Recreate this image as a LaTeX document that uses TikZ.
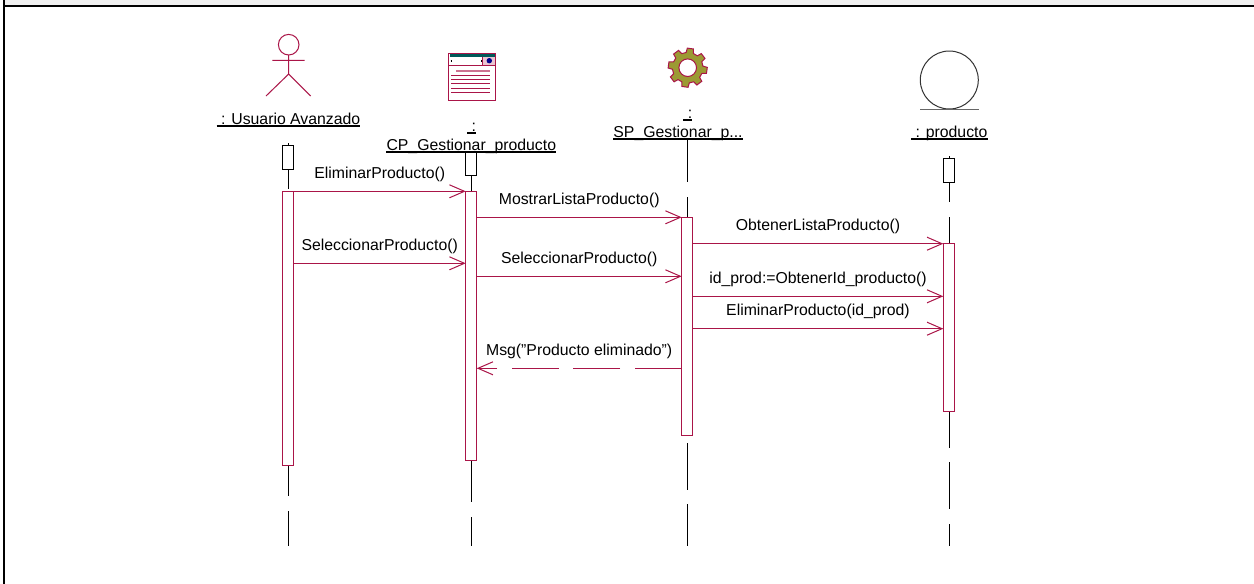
\documentclass[tikz,border=0pt]{standalone}
\usepackage{fontspec}
\setmainfont{Liberation Sans}
\usepackage{tikz}
\usetikzlibrary{arrows.meta}
\usetikzlibrary{calc}

\definecolor{umlred}{HTML}{AA1548}
\definecolor{gearfill}{HTML}{9C9A33}
\definecolor{bandgray}{HTML}{F0F0F0}

\tikzset{
  msg/.style={draw=umlred,line width=1pt,-{Straight Barb[length=15pt,width=13pt,line width=1pt]}},
  msg label/.style={anchor=base,yshift=13pt,inner sep=0pt,font=\fontsize{15.8}{18}\selectfont},
  obj label/.style={anchor=base,inner sep=0pt,font=\fontsize{15.8}{18}\selectfont},
  obj rule/.style={line width=1.5pt},
  focus/.style={draw=umlred,line width=1pt,fill=white},
  lifebox/.style={draw=black,line width=1pt,fill=white},
  lifeline/.style={line width=1pt},
  icon/.style={draw=umlred,line width=1pt}
}

\begin{document}
\begin{tikzpicture}[x=1pt,y=-1pt]
  \useasboundingbox (0,0) rectangle (1254,584);
  \fill[white] (0,0) rectangle (1254,584);
  \fill[bandgray] (5,0) rectangle (1254,5);
  \draw[line width=1.8pt] (4.2,0) -- (4.2,584);
  \draw[line width=1.8pt] (3.3,5.8) -- (1254,5.8);

  % lifelines
  \foreach \x/\a/\b in {288.3/143/189,288.3/465/496,288.3/511/546,
                        471.7/152/191,471.7/460/502,471.7/517/546,
                        687.7/138/182,687.7/197/218,687.7/443/490,687.7/504/546,
                        949.3/156/202,949.3/217/244,949.3/411/448,949.3/462/509,949.3/524/546}
    \draw[lifeline] (\x,\a) -- (\x,\b);

  % small boxes on top
  \draw[lifebox] (282.3,145.3) rectangle (293.7,169);
  \draw[lifebox] (465.7,152) rectangle (476.7,175.3);
  \draw[lifebox] (943.3,158.7) rectangle (954.3,182.3);

  % focus of control
  \draw[focus] (282.3,191.3) rectangle (293.7,465);
  \draw[focus] (465.7,191.3) rectangle (476.7,460.5);
  \draw[focus] (681.7,217.3) rectangle (692.7,435.7);
  \draw[focus] (943.3,243.7) rectangle (954.3,411);

  % actor
  \draw[icon] (288.7,44.7) circle (10.3);
  \draw[icon] (288.7,55) -- (288.7,74) (272.3,60.3) -- (304.7,60.3) (266,96) -- (288.7,74) -- (310.7,96);

  % window icon
  \draw[icon,fill=white] (448.9,53.5) rectangle (495,100);
  \fill[teal!70!black] (449.5,54) rectangle (494.5,56.5);
  \fill[umlred!25] (483,57) rectangle (494.5,65);
  \draw[icon] (449,65.3) -- (495,65.3) (482.8,56.8) -- (482.8,65.3);
  \draw[black,line width=2.6pt,densely dotted] (450.5,61) -- (482,61);
  \fill[white] (452,59.6) rectangle (480.5,62.4);
  \fill[blue!55!black] (489.3,60.7) circle (2.7);
  \draw[icon,umlred!60,line width=1.4pt] (456,71) -- (490,71);
  \foreach \y in {75,79.3,83.7,88.3,92.7}
    \draw[icon] (451.3,\y) -- (490,\y);

  % gear icon
  \begin{scope}[shift={(687.7,67.7)}]
    \draw[icon,fill=gearfill,even odd rule] (-14+8-90:15.3)
      \foreach \a in {-82,-37,8,53,98,143,188,233} {
        -- (\a-14:15.3) -- (\a-9:19.6) -- (\a+9:19.6) -- (\a+14:15.3)
      } -- cycle (0,0) circle (8.8);
  \end{scope}

  % entity icon
  \draw[line width=1pt,black!80] (949.3,80) circle (29);
  \draw[line width=1pt,black!60] (920,109) -- (979,109);

  % object names
  \node[obj label] (usuario) at (288.5,124) {~: Usuario Avanzado~};
  \node[obj label] (cpdots) at (471.7,131.3) {~:~};
  \node[obj label] (cp) at (471.3,150) {CP\_Gestionar\_producto};
  \node[obj label] (spdots) at (687.9,118) {~:~};
  \node[obj label] (sp) at (678,137.2) {SP\_Gestionar\_p...};
  \node[obj label] (prod) at (949.3,137.2) {~: producto~};
  \foreach \n in {usuario,cpdots,cp,spdots,sp,prod}
    \draw[obj rule] ($(\n.base west)+(0,1.8)$) -- ($(\n.base east)+(0,1.8)$);

  % messages
  \coordinate (m1a) at (293.7,191.3);   \coordinate (m1b) at (465.7,191.3);
  \coordinate (m2a) at (476.7,217.3);   \coordinate (m2b) at (681.7,217.3);
  \coordinate (m3a) at (692.7,243.7);   \coordinate (m3b) at (943.3,243.7);
  \coordinate (m4a) at (293.7,263.3);   \coordinate (m4b) at (465.7,263.3);
  \coordinate (m5a) at (476.7,276.3);   \coordinate (m5b) at (681.7,276.3);
  \coordinate (m6a) at (692.7,296.3);   \coordinate (m6b) at (943.3,296.3);
  \coordinate (m7a) at (692.7,328.7);   \coordinate (m7b) at (943.3,328.7);
  \coordinate (m8a) at (681.7,368.3);   \coordinate (m8b) at (476.7,368.3);

  \path (m1a) edge[msg] node[msg label] {EliminarProducto()} (m1b)
        (m2a) edge[msg] node[msg label] {MostrarListaProducto()} (m2b)
        (m3a) edge[msg] node[msg label] {ObtenerListaProducto()} (m3b)
        (m4a) edge[msg] node[msg label] {SeleccionarProducto()} (m4b)
        (m5a) edge[msg] node[msg label] {SeleccionarProducto()} (m5b)
        (m6a) edge[msg] node[msg label] {id\_prod:=ObtenerId\_producto()} (m6b)
        (m7a) edge[msg] node[msg label] {EliminarProducto(id\_prod)} (m7b)
        (m8a) edge[msg,dash pattern=on 47pt off 14.5pt] node[msg label] {Msg("Producto eliminado")} (m8b);
\end{tikzpicture}
\end{document}
